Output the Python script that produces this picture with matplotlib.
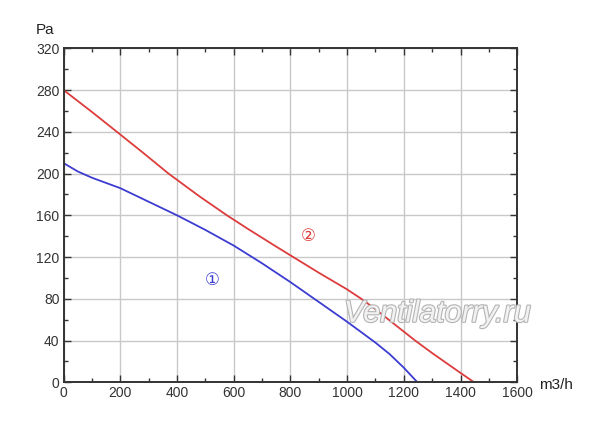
import matplotlib
matplotlib.use("Agg")
import matplotlib.pyplot as plt
import matplotlib.patheffects as pe
from matplotlib.ticker import MultipleLocator

plt.rcParams['font.family'] = ['Liberation Sans', 'DejaVu Sans']

## curve 1 (blue)
flow_1 = [0, 50, 100, 200, 300, 400, 500, 600, 700, 800, 900, 1000, 1100, 1150,
          1200, 1248]
pressure_1 = [210, 202, 196, 186, 173, 160, 146, 131, 114, 96, 77, 58, 38, 27,
              14, 0]

## curve 2 (red)
flow_2 = [0, 100, 188, 280, 370, 400, 480, 576, 650, 750, 810, 900, 1000, 1050,
          1100, 1240, 1300, 1400, 1448]
pressure_2 = [280, 259, 240, 220, 200, 194, 178, 160, 147, 130, 120, 105, 89, 80,
              70, 40, 28, 9, 0]

x_ticks = [0, 200, 400, 600, 800, 1000, 1200, 1400, 1600]
y_ticks = [0, 40, 80, 120, 160, 200, 240, 280, 320]

fig = plt.figure(figsize=(6, 4.26), dpi=100)
ax = fig.add_axes([0.106, 0.1026, 0.756, 0.784])

ax.plot(flow_1, pressure_1, color='#3c3cd2', lw=1.3)
ax.plot(flow_2, pressure_2, color='#dc3c3c', lw=1.3)

## curve labels
ax.text(524, 98, '\u2460', color='#3c3cd2', fontsize=12, ha='center', va='center',
        family=['DejaVu Sans'])
ax.text(863, 140, '\u2461', color='#dc3c3c', fontsize=12, ha='center', va='center',
        family=['DejaVu Sans'])

## watermark
ax.text(1318, 58, 'Ventilatorry.ru', color='#f2f2f2', fontsize=22, style='italic',
        ha='center', va='baseline',
        path_effects=[pe.withStroke(linewidth=1.6, foreground='#b4b4b4')])

## axes styling
ax.set_xlim(0, 1600)
ax.set_ylim(0, 320)
ax.set_xticks(x_ticks)
ax.set_yticks(y_ticks)
ax.xaxis.set_minor_locator(MultipleLocator(100))
ax.yaxis.set_minor_locator(MultipleLocator(20))
ax.tick_params(which='both', direction='in', top=True, right=True,
               color='#333333', labelsize=10, labelcolor='#333333', pad=3)
ax.tick_params(which='major', length=5, width=1)
ax.tick_params(which='minor', length=3, width=1)
ax.grid(True, which='major', color='#c8c8c8', lw=1)
for s in ax.spines.values():
    s.set_color('#333333')
    s.set_linewidth(1.4)

fig.text(45 / 600, 1 - 30 / 426, 'Pa', fontsize=11, ha='center', va='center', color='#222222')
fig.text(556 / 600, 1 - 385 / 426, 'm3/h', fontsize=11, ha='center', va='center', color='#222222')

fig.savefig('out.png', dpi=100)
